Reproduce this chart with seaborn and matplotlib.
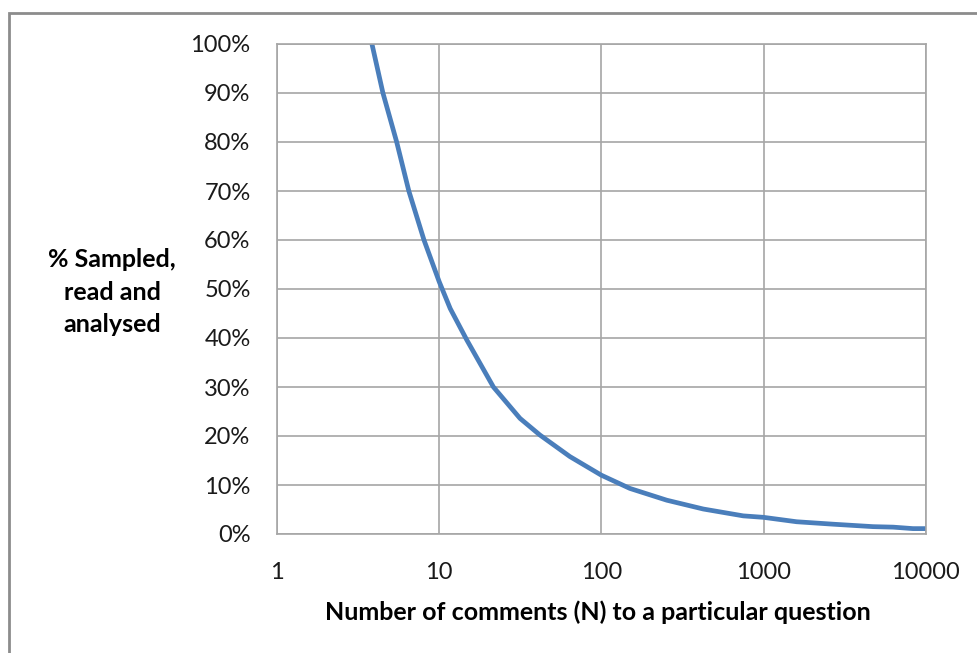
import matplotlib
matplotlib.use("Agg")
import matplotlib.pyplot as plt
import seaborn as sns
import pandas as pd
from matplotlib.patches import Rectangle
from matplotlib.ticker import FixedLocator, FixedFormatter, NullLocator

# ---- data ----
n_comments = [3.85, 4.5, 5.47, 6.5, 8.06, 10, 11.7, 14.8, 21.6, 31.5, 41.8, 64,
              100, 150, 253, 425, 750, 1000, 1600, 2690, 4740, 6300, 8350, 10000]
pct_sampled = [100, 90, 80, 70, 60, 51.5, 46.0, 39.6, 30, 23.6, 20.2, 15.8,
               12.0, 9.3, 6.9, 5.1, 3.7, 3.4, 2.5, 2.0, 1.5, 1.4, 1.1, 1.1]
x_ticks = [1, 10, 100, 1000, 10000]
x_tick_labels = ["1", "10", "100", "1000", "10000"]
y_ticks = [0, 10, 20, 30, 40, 50, 60, 70, 80, 90, 100]
y_tick_labels = [f"{v}%" for v in y_ticks]
x_title = "Number of comments (N) to a particular question"
y_title = "% Sampled,\nread and\nanalysed"

sns.set_theme(style="white")
plt.rcParams["font.family"] = ["Lato", "DejaVu Sans"]

W, H = 978, 653
fig = plt.figure(figsize=(W / 100, H / 100), dpi=100)
fig.patch.set_facecolor("white")
left, right, top, bottom = 277, 925.7, 44, 534
ax = fig.add_axes([left / W, 1 - bottom / H, (right - left) / W, (bottom - top) / H])

df = pd.DataFrame({"N": n_comments, "pct": pct_sampled})
sns.lineplot(data=df, x="N", y="pct", ax=ax, color="#4A7EBB", linewidth=3.4,
             sort=False, estimator=None, solid_joinstyle="round")

ax.set_xscale("log")
ax.set_xlim(1, 10000)
ax.set_ylim(0, 100)
ax.xaxis.set_major_locator(FixedLocator(x_ticks))
ax.xaxis.set_major_formatter(FixedFormatter(x_tick_labels))
ax.xaxis.set_minor_locator(NullLocator())
ax.set_yticks(y_ticks)
ax.set_yticklabels(y_tick_labels)
ax.grid(True, which="major", color="#A6A6A6", linewidth=1.2)
ax.set_axisbelow(True)
for s in ax.spines.values():
    s.set_color("#A6A6A6")
    s.set_linewidth(1.2)
ax.tick_params(axis="both", length=0, labelsize=17, colors="#1A1A1A")
ax.tick_params(axis="y", pad=19)
ax.tick_params(axis="x", pad=20)
ax.set_xlabel("")
ax.set_ylabel("")

fig.text(598 / W, 1 - 612 / H, x_title, ha="center", va="center",
         fontsize=18, fontweight="bold", color="black")
fig.text(112 / W, 1 - 292 / H, y_title, ha="center", va="center",
         fontsize=18, fontweight="bold", color="black", linespacing=1.52)

fig.add_artist(Rectangle((9 / W, -0.1), 1.5, (1 - 13 / H) + 0.1,
                         transform=fig.transFigure, fill=False,
                         edgecolor="#8C8C8C", linewidth=2))

fig.savefig("out.png", dpi=100)
